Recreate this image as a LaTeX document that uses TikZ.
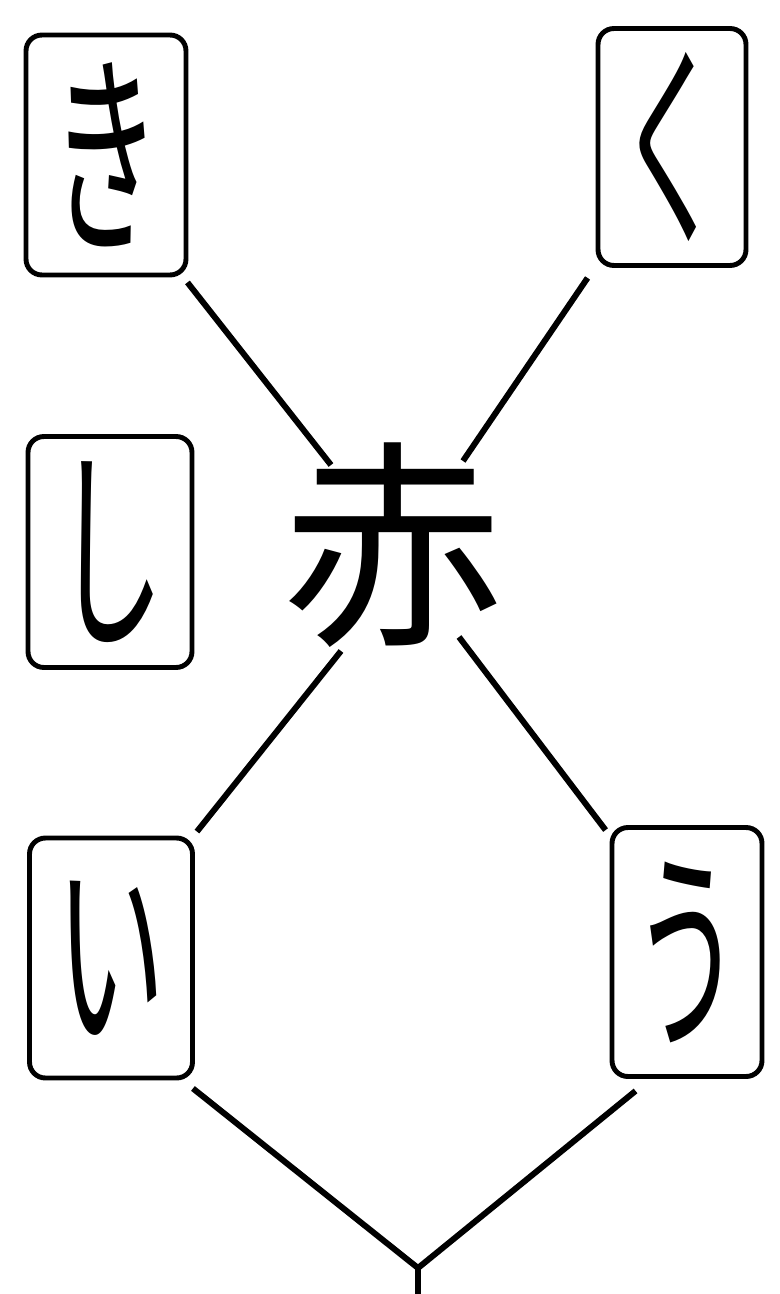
\documentclass[tikz,border=0pt]{standalone}
\usepackage{fontspec}
\newfontfamily\jpfont{Noto Sans CJK JP}
\newcommand{\kana}[1]{\scalebox{0.5}[1]{#1}}
\tikzset{
  card/.style={draw, line width=2.8pt, rounded corners=9pt, inner sep=0pt,
    font=\jpfont\fontsize{124pt}{124pt}\selectfont},
  kanji/.style={inner sep=0pt, font=\jpfont\fontsize{126pt}{126pt}\selectfont},
  link/.style={line width=3.4pt}
}
\begin{document}
\begin{tikzpicture}[x=0.02cm, y=-0.02cm]
  \useasboundingbox (0,0) rectangle (779,1294);

  % cards
  \node[card, minimum width=3.2cm, minimum height=4.8cm] (ki) at (106,155) {\kana{き}};
  \node[card, minimum width=2.96cm, minimum height=4.74cm] (ku) at (672,147) {\kana{く}};
  \node[card, minimum width=3.28cm, minimum height=4.62cm] (shi) at (110,552) {\kana{し}};
  \node[card, minimum width=3.26cm, minimum height=4.8cm] (i) at (111,958) {\kana{い}};
  \node[card, minimum width=3.0cm, minimum height=4.98cm] (u) at (687,952) {\kana{う}};

  \node[kanji] (aka) at (393,545) {赤};

  \coordinate (meet) at (418,1268);
  \coordinate (stem) at (418,1294);

  % connectors
  \draw[link] ([shift={(-1,5)}]ki.south east) -- ([shift={(-62,-80)}]aka.center);
  \draw[link] ([shift={(-8,10)}]ku.south west) -- ([shift={(70,-84)}]aka.center);
  \draw[link] ([shift={(-52,106)}]aka.center) -- ([shift={(2,-4)}]i.north east);
  \draw[link] ([shift={(66,92)}]aka.center) -- ([shift={(-4,5)}]u.north west);
  \draw[link] ([shift={(-2,8)}]i.south east) -- (meet);
  \draw[link] ([shift={(26,12)}]u.south west) -- (meet);
  \draw[link] (meet) -- (stem);
\end{tikzpicture}
\end{document}
